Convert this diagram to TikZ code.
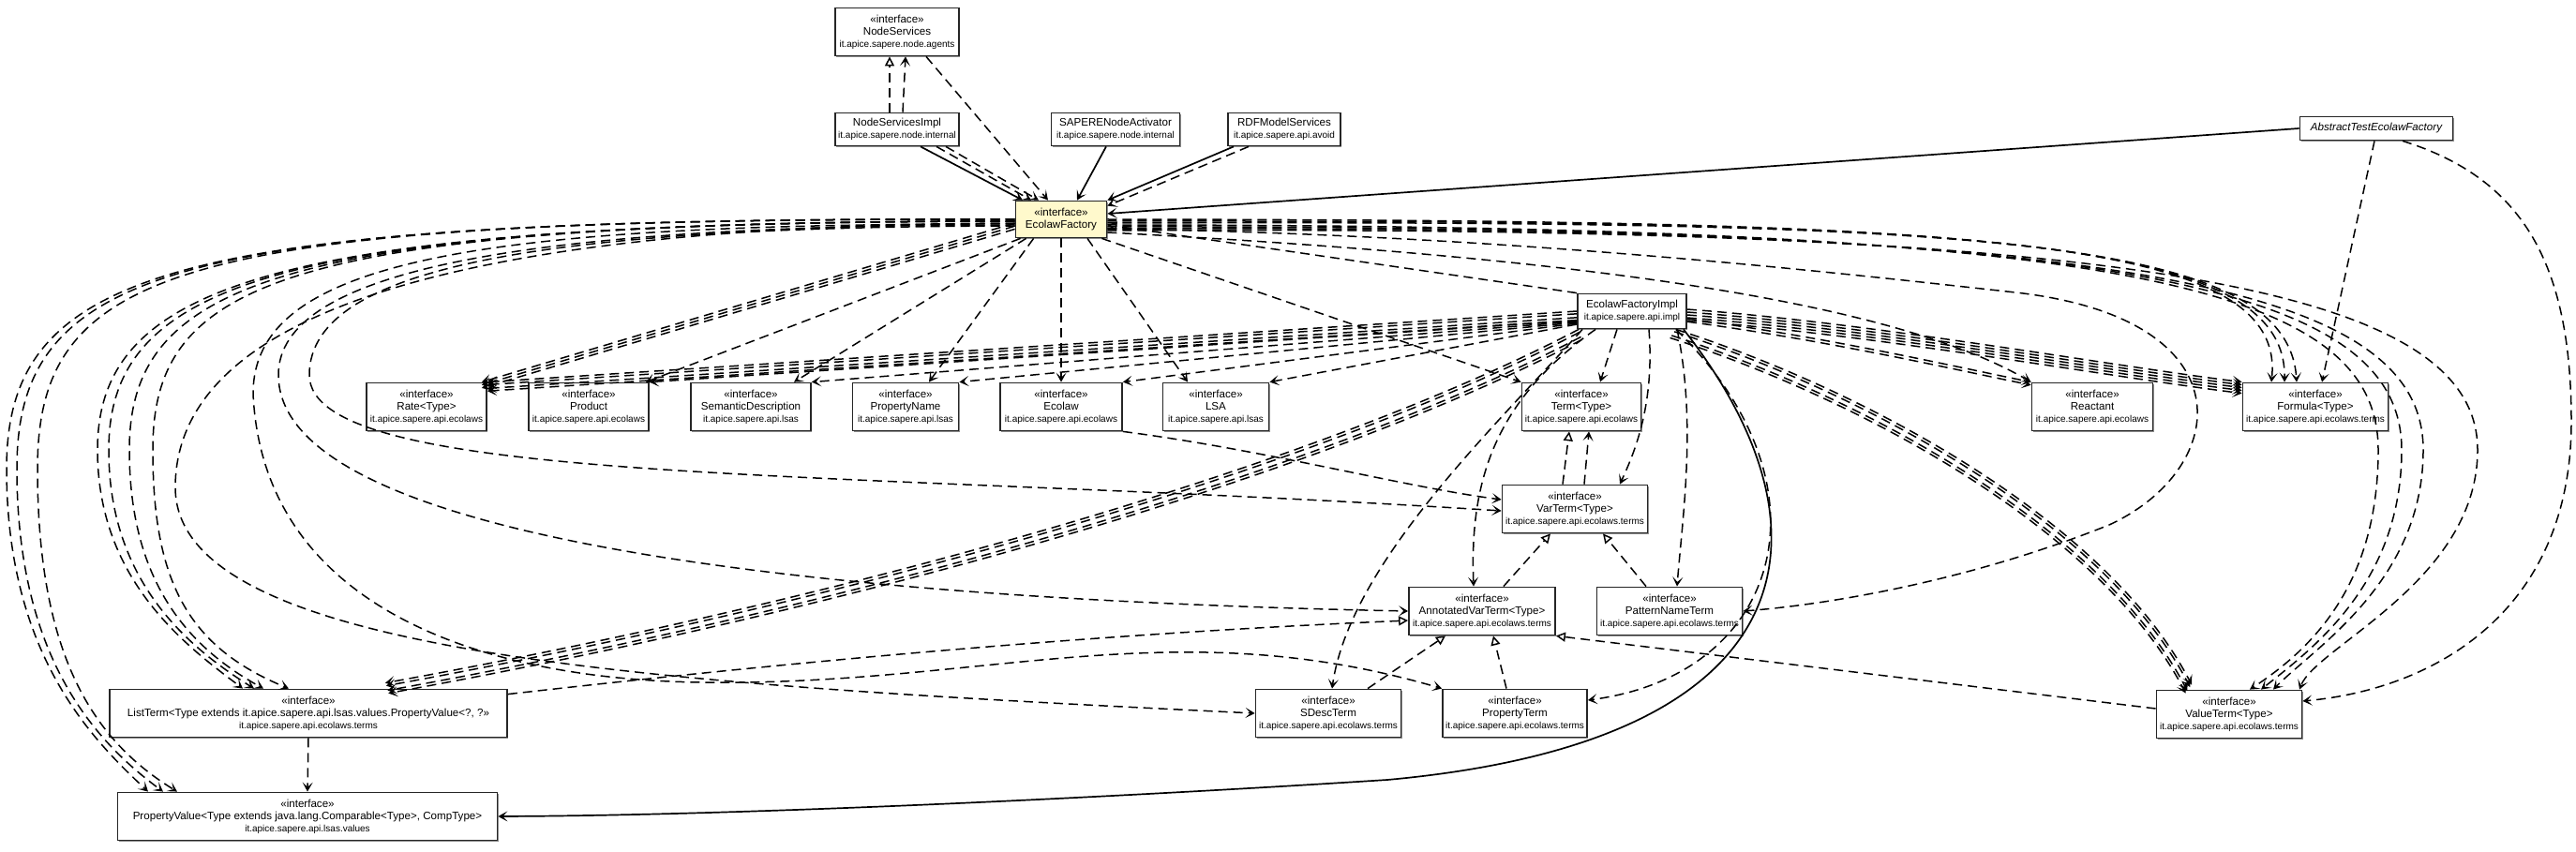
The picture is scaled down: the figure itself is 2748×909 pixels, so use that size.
\documentclass[tikz,border=0pt]{standalone}
\usepackage{fontspec}
\setmainfont{Liberation Sans}
\usetikzlibrary{arrows.meta,shadows}

\definecolor{facyellow}{HTML}{FFF9CC}
\newcommand{\pkgline}[1]{{\fontsize{5}{6.5}\selectfont #1}}

\begin{document}
\begin{tikzpicture}[
    x=0.5pt, y=-0.5pt,
    font=\fontsize{5.8}{6.5}\selectfont,
    >={Stealth[length=5pt,width=5.5pt,inset=2.6pt]},
    ibox/.style={draw=black!85, line width=0.9pt, fill=white, align=center, inner sep=0.5pt,
                 minimum height=25.5pt, general shadow={fill=black!45, shadow xshift=0.6pt, shadow yshift=-0.6pt}},
    cbox/.style={ibox, minimum height=17.5pt},
    dep/.style={->, line width=0.75pt, dash pattern=on 5pt off 3pt},
    real/.style={-{Triangle[open,length=5pt,width=5pt,fill=white]}, line width=0.75pt, dash pattern=on 5pt off 3pt},
    assoc/.style={->, line width=0.85pt}
]
    \useasboundingbox (0,0) rectangle (2748,909);

    % top row
    \node[ibox, minimum width=66pt] (nsv) at (957,34) {«interface»\\NodeServices\\\pkgline{it.apice.sapere.node.agents}};
    \node[cbox, minimum width=66pt] (nsimpl) at (957,138) {NodeServicesImpl\\\pkgline{it.apice.sapere.node.internal}};
    \node[cbox, minimum width=68.5pt] (sapere) at (1190,138) {SAPERENodeActivator\\\pkgline{it.apice.sapere.node.internal}};
    \node[cbox, minimum width=60pt] (rdf) at (1370,138) {RDFModelServices\\\pkgline{it.apice.sapere.api.avoid}};
    \node[ibox, fill=facyellow, minimum width=48.5pt, minimum height=19.5pt] (fac) at (1132,234) {«interface»\\EcolawFactory};
    \node[ibox, minimum width=81.5pt, minimum height=12.5pt] (test) at (2535,137) {\itshape AbstractTestEcolawFactory};
    \node[cbox, minimum width=58pt, minimum height=18.5pt] (impl) at (1741,332) {EcolawFactoryImpl\\\pkgline{it.apice.sapere.api.impl}};

    % interfaces
    \node[ibox, minimum width=64pt] (rate) at (455,434) {«interface»\\Rate<Type>\\\pkgline{it.apice.sapere.api.ecolaws}};
    \node[ibox, minimum width=64pt] (product) at (628,434) {«interface»\\Product\\\pkgline{it.apice.sapere.api.ecolaws}};
    \node[ibox, minimum width=64pt] (semdesc) at (801,434) {«interface»\\SemanticDescription\\\pkgline{it.apice.sapere.api.lsas}};
    \node[ibox, minimum width=56.5pt] (propname) at (966,434) {«interface»\\PropertyName\\\pkgline{it.apice.sapere.api.lsas}};
    \node[ibox, minimum width=65pt] (ecolaw) at (1132,434) {«interface»\\Ecolaw\\\pkgline{it.apice.sapere.api.ecolaws}};
    \node[ibox, minimum width=56.5pt] (lsa) at (1297,434) {«interface»\\LSA\\\pkgline{it.apice.sapere.api.lsas}};
    \node[ibox, minimum width=63.5pt] (term) at (1687,434) {«interface»\\Term<Type>\\\pkgline{it.apice.sapere.api.ecolaws}};
    \node[ibox, minimum width=64.5pt] (reactant) at (2232,434) {«interface»\\Reactant\\\pkgline{it.apice.sapere.api.ecolaws}};
    \node[ibox, minimum width=77.5pt] (formula) at (2470,434) {«interface»\\Formula<Type>\\\pkgline{it.apice.sapere.api.ecolaws.terms}};
    \node[ibox, minimum width=77.5pt] (varterm) at (1680,543) {«interface»\\VarTerm<Type>\\\pkgline{it.apice.sapere.api.ecolaws.terms}};
    \node[ibox, minimum width=78pt] (annvar) at (1581,652) {«interface»\\AnnotatedVarTerm<Type>\\\pkgline{it.apice.sapere.api.ecolaws.terms}};
    \node[ibox, minimum width=77.5pt] (pattern) at (1781,652) {«interface»\\PatternNameTerm\\\pkgline{it.apice.sapere.api.ecolaws.terms}};
    \node[ibox, minimum width=212pt] (listterm) at (329,761) {«interface»\\ListTerm<Type extends it.apice.sapere.api.lsas.values.PropertyValue<?, ?>>\\\pkgline{it.apice.sapere.api.ecolaws.terms}};
    \node[ibox, minimum width=77.5pt] (sdesc) at (1417,761) {«interface»\\SDescTerm\\\pkgline{it.apice.sapere.api.ecolaws.terms}};
    \node[ibox, minimum width=77pt] (propterm) at (1616,761) {«interface»\\PropertyTerm\\\pkgline{it.apice.sapere.api.ecolaws.terms}};
    \node[ibox, minimum width=77.5pt] (valueterm) at (2378,762) {«interface»\\ValueTerm<Type>\\\pkgline{it.apice.sapere.api.ecolaws.terms}};
    \node[ibox, minimum width=202.5pt] (propval) at (328,871) {«interface»\\PropertyValue<Type extends java.lang.Comparable<Type>, CompType>\\\pkgline{it.apice.sapere.api.lsas.values}};

    % top cluster
    \draw[real] ([xshift=-4pt]nsimpl.north) -- ([xshift=-4pt]nsv.south);
    \draw[dep] ([xshift=3pt]nsimpl.north) -- ([xshift=4.5pt]nsv.south);
    \draw[dep] ([xshift=15.5pt]nsv.south) -- ([xshift=-7pt]fac.north);
    \draw[assoc] ([xshift=12.5pt]nsimpl.south) -- ([xshift=-20.5pt]fac.north);
    \draw[dep] ([xshift=21pt]nsimpl.south) -- ([xshift=-16pt]fac.north);
    \draw[dep] ([xshift=26pt]nsimpl.south) -- ([xshift=-12pt]fac.north);
    \draw[assoc] ([xshift=-5pt]sapere.south) -- ([xshift=8.5pt]fac.north);
    \draw[assoc] ([xshift=-27pt]rdf.south) -- (fac.north east);
    \draw[dep] ([xshift=-19pt]rdf.south) -- ([yshift=-3pt]fac.north east);
    \draw[assoc] (test.west) -- ([yshift=3pt]fac.east);
    \draw[real] (impl.north west) -- ([yshift=-3pt]fac.east);

    % factory to the interfaces below it
    \foreach \d in {0,1.6,3.2}
        \draw[dep, transform canvas={yshift=-\d pt}] ([yshift=-2pt]fac.west) -- ([xshift=-3pt]rate.north east);
    \draw[dep] ([xshift=3pt]fac.south west) -- ([xshift=-2pt]product.north east);
    \draw[dep] ([xshift=6pt]fac.south west) -- ([xshift=23pt]semdesc.north);
    \draw[dep] ([xshift=10pt]fac.south west) -- ([xshift=12.5pt]propname.north);
    \draw[dep] (fac.south) -- (ecolaw.north);
    \draw[dep] ([xshift=14pt]fac.south) -- ([xshift=-15pt]lsa.north);
    \draw[dep] ([xshift=-3pt]fac.south east) -- (term.north west);

    % implementation to the interfaces
    \foreach \d in {0,1.4,3.4,4.8}
        \draw[dep, transform canvas={yshift=-\d pt}] (impl.west) -- (rate.north east);
    \draw[dep] ([yshift=-5pt]impl.west) -- (product.north east);
    \draw[dep] ([yshift=-5.5pt]impl.west) -- (semdesc.north east);
    \draw[dep] ([yshift=-6pt]impl.west) -- (propname.north east);
    \draw[dep] ([yshift=-6.5pt]impl.west) -- (ecolaw.north east);
    \draw[dep] ([yshift=-7pt]impl.west) -- (lsa.north east);
    \draw[dep] ([xshift=-8pt]impl.south) -- ([xshift=10pt]term.north);
    \draw[dep] ([xshift=3pt]impl.south west) .. controls (1600,450) and (1440,600) .. ([xshift=2pt]sdesc.north);
    \draw[dep] ([xshift=10pt]impl.south west) .. controls (1590,430) and (1568,520) .. ([xshift=-4.5pt]annvar.north);
    \draw[dep] ([xshift=9pt]impl.south) .. controls (1765,430) and (1745,480) .. ([xshift=24pt]varterm.north);
    \draw[dep] ([xshift=24pt]impl.south) .. controls (1810,450) and (1795,550) .. ([xshift=4pt]pattern.north);
    \draw[dep] ([xshift=-6pt]impl.south east) .. controls (1960,520) and (1900,720) .. ([yshift=7pt]propterm.east);
    \draw[assoc] ([xshift=-2pt]impl.south east) .. controls (1960,560) and (1940,790) .. (1480,832)
        .. controls (1200,850) and (800,870) .. (propval.east);
    \foreach \d in {0,1.5,4,5.5}
        \draw[dep, transform canvas={xshift=0.3*\d pt, yshift=-\d pt}] ([xshift=1pt]impl.south west) .. controls (1400,500) and (900,640) .. ([xshift=41pt, yshift=3pt]listterm.north);
    \foreach \d in {0,1.5,3,4.5,6}
        \draw[dep, transform canvas={yshift=-\d pt}] ([yshift=1pt]impl.east) .. controls (2000,345) and (2250,390) .. (formula.north west);
    \foreach \d in {0,1.6}
        \draw[dep, transform canvas={yshift=-\d pt}] ([yshift=-4pt]impl.east) .. controls (1950,360) and (2080,390) .. (reactant.north west);
    \foreach \d in {0,1.5,4,5.5}
        \draw[dep, transform canvas={xshift=-0.58*\d pt, yshift=-0.82*\d pt}] ([xshift=-6pt]impl.south east) .. controls (2000,420) and (2250,560) .. ([xshift=-20pt, yshift=2.5pt]valueterm.north);

    % factory, right side
    \draw[dep] ([yshift=-7pt]fac.east) .. controls (1600,270) and (2000,310) .. (reactant.north west);
    \foreach \d/\ax in {0/-23.5,1/-16.5,2/-10}
        \draw[dep] ([yshift=-\d*1pt]fac.east) .. controls (2100,235) and (2440,250) .. ([xshift=\ax*1pt]formula.north);
    \foreach \d/\rx/\ax in {3/2537/11,4/2562/17,5/2585/23.5,6/2643/37.5}
        \draw[dep] ([yshift=-\d*1pt]fac.east) .. controls (2250,240) and (\rx,300) .. (\rx,480)
            .. controls (\rx,620) and (2470,690) .. ([xshift=\ax*1pt]valueterm.north);
    \draw[dep] ([yshift=-5pt]fac.east) .. controls (1600,250) and (1950,290) .. (2150,312)
        .. controls (2400,340) and (2380,500) .. (2250,560) .. controls (2100,620) and (1950,645) .. (pattern.east);
    \draw[dep] ([xshift=-1pt]test.south) -- ([xshift=3.5pt]formula.north);
    \draw[dep] ([xshift=14pt]test.south) .. controls (2690,190) and (2743,280) .. (2743,450)
        .. controls (2743,650) and (2600,735) .. ([yshift=7pt]valueterm.east);

    % factory, loops on the left
    \foreach \lx/\ax in {104/-35,116/-29,138/-24,163/-10.5}
        \draw[dep] ([yshift=-1pt]fac.west) .. controls (300,236) and (\lx,300) .. (\lx,480)
            .. controls (\lx,620) and (200,690) .. ([xshift=\ax*1pt]listterm.north);
    \foreach \lx/\ax in {7/-85,18/-77,40/-69.5}
        \draw[dep] (fac.west) .. controls (200,232) and (\lx,280) .. (\lx,500)
            .. controls (\lx,700) and (100,790) .. ([xshift=\ax*1pt]propval.north);
    \draw[dep] ([yshift=-2pt]fac.west) .. controls (500,240) and (187,330) .. (187,520)
        .. controls (187,700) and (700,730) .. (sdesc.west);
    \draw[dep] ([yshift=-2.5pt]fac.west) .. controls (500,238) and (270,280) .. (270,420)
        .. controls (280,640) and (500,725) .. (750,728) .. controls (1050,732) and (1250,650) .. (propterm.north west);
    \draw[dep] ([yshift=-3pt]fac.west) .. controls (550,240) and (297,290) .. (297,400)
        .. controls (297,580) and (900,640) .. (annvar.west);
    \draw[dep] ([yshift=-3.5pt]fac.west) .. controls (600,242) and (330,280) .. (330,400)
        .. controls (330,520) and (900,500) .. ([yshift=-1pt]varterm.west);
    \draw[dep] (ecolaw.south east) .. controls (1350,480) and (1500,520) .. ([yshift=5pt]varterm.west);

    % term hierarchy
    \draw[real] ([xshift=-6.5pt]varterm.north) -- ([xshift=-6.5pt]term.south);
    \draw[dep] ([xshift=5pt]varterm.north) -- ([xshift=4pt]term.south);
    \draw[real] ([xshift=-28pt]annvar.north east) -- ([xshift=-13pt]varterm.south);
    \draw[real] ([xshift=-12.5pt]pattern.north) -- ([xshift=15pt]varterm.south);
    \draw[real] ([xshift=21pt]sdesc.north) -- ([xshift=-19.5pt]annvar.south);
    \draw[real] ([xshift=-4.5pt]propterm.north) -- ([xshift=6pt]annvar.south);
    \draw[real] ([yshift=3pt]valueterm.west) -- (annvar.south east);
    \draw[real] ([yshift=-3pt]listterm.north east) .. controls (900,700) and (1200,675) .. ([yshift=-5pt]annvar.west);
    \draw[dep] (listterm.south) -- (propval.north);
\end{tikzpicture}
\end{document}
